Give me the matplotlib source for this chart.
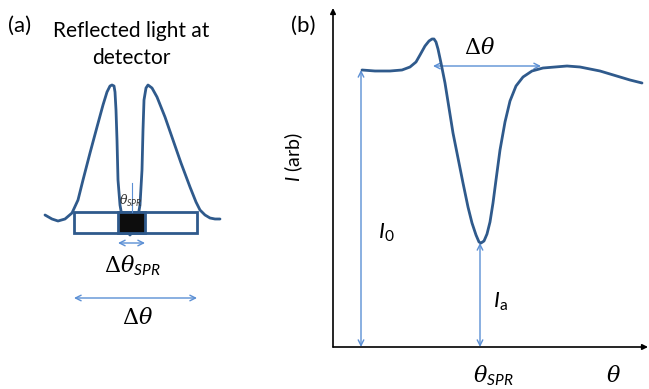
import numpy as np
import matplotlib.pyplot as plt
from matplotlib.patches import Rectangle, FancyArrowPatch

plt.rcParams['font.family'] = ['Lato', 'DejaVu Sans']
plt.rcParams['mathtext.fontset'] = 'custom'
plt.rcParams['mathtext.rm'] = 'DejaVu Serif'
plt.rcParams['mathtext.it'] = 'DejaVu Serif:italic'
plt.rcParams['mathtext.sf'] = 'Lato:italic'
plt.rcParams['mathtext.tt'] = 'Lato'

# panel (a): reflected light profile on the detector (pixel coords)
det_x = [45, 52, 58, 65, 72, 78, 83, 90, 97, 103, 107, 110, 112, 114, 115, 116, 117, 118, 120,
         124, 130, 136, 140, 142, 143, 144, 146, 148, 152, 157, 165, 173, 181, 190, 196, 200, 205, 210, 215, 220]
det_y = [215, 219, 221, 219, 213, 200, 180, 153, 127, 105, 92, 86, 85, 86, 92, 110, 140, 180, 205,
         228, 235, 228, 205, 170, 130, 100, 88, 85, 88, 97, 117, 140, 163, 187, 202, 210, 215, 218, 219, 219]

# panel (b): SPR reflectivity curve
spr_x = [362, 375, 390, 402, 410, 416, 420, 425, 429, 432, 434, 436, 438, 441, 445, 449, 453, 458, 463, 468,
         472, 476, 479, 481, 484, 487, 490, 493, 496, 500, 505, 510, 516, 523, 532, 543, 555, 567, 580, 590, 600,
         610, 620, 630, 642]
spr_y = [70, 71, 71, 70, 67, 62, 55, 46, 41, 39, 39, 42, 49, 63, 83, 108, 133, 158, 183, 207,
         223, 235, 242, 243, 241, 234, 222, 203, 180, 150, 122, 101, 86, 77, 71, 68, 67, 66, 67, 69, 71,
         74, 77, 80, 83]

curve_col = '#2f5a8c'
arrow_col = '#5b8fd4'

fig = plt.figure(figsize=(6.49, 3.89), dpi=100)
ax = fig.add_axes([0, 0, 1, 1])
ax.set_xlim(0, 649)
ax.set_ylim(389, 0)
ax.axis('off')


def arrow(x0, y0, x1, y1, style='<->', col=arrow_col, lw=1.0, ms=10):
    ax.add_patch(FancyArrowPatch((x0, y0), (x1, y1), arrowstyle=style, color=col,
                                 lw=lw, mutation_scale=ms, shrinkA=0, shrinkB=0))


# ---- panel (a)
ax.plot(det_x, det_y, color=curve_col, lw=2, zorder=2, solid_capstyle='round')
ax.add_patch(Rectangle((74, 212), 123, 21, facecolor='white', edgecolor=curve_col, lw=2, zorder=3))
ax.add_patch(Rectangle((118, 212), 27, 21, facecolor='#0d0d0d', edgecolor=curve_col, lw=2, zorder=4))
ax.plot([132, 132], [183, 212], color=arrow_col, lw=0.8, zorder=5)
ax.text(131, 201, r'$\theta_{\mathsf{SPR}}$', fontsize=9, color='#333333', ha='center', va='center', zorder=6)
arrow(118, 243, 145, 243)
ax.text(132, 266, r'$\Delta\theta_{\mathsf{SPR}}$', fontsize=16, ha='center', va='center')
arrow(74, 298, 197, 298)
ax.text(138, 318, r'$\Delta\theta$', fontsize=16, ha='center', va='center')
ax.text(20, 26, '(a)', fontsize=16, ha='center', va='center')
ax.text(131, 31, 'Reflected light at', fontsize=15, ha='center', va='center')
ax.text(131, 58, 'detector', fontsize=15, ha='center', va='center')

# ---- panel (b)
ax.plot(spr_x, spr_y, color=curve_col, lw=2, zorder=2, solid_capstyle='round')
arrow(333, 347, 333, 8, style='-|>', col='black', lw=1.2, ms=8)
arrow(333, 347, 648, 347, style='-|>', col='black', lw=1.2, ms=8)
arrow(361, 70, 361, 347)
arrow(480, 243, 480, 347)
arrow(433, 66, 541, 66)
ax.text(303, 26, '(b)', fontsize=16, ha='center', va='center')
ax.text(294, 157, r'$\mathsf{I}$ (arb)', fontsize=14, rotation=90, ha='center', va='center')
ax.text(386, 233, r'$\mathsf{I}_{\mathtt{0}}$', fontsize=16, ha='center', va='center')
ax.text(500, 302, r'$\mathsf{I}_{\mathtt{a}}$', fontsize=16, ha='center', va='center')
ax.text(480, 47, r'$\Delta\theta$', fontsize=16, ha='center', va='center')
ax.text(493, 376, r'$\theta_{\mathsf{SPR}}$', fontsize=16, ha='center', va='center')
ax.text(614, 376, r'$\theta$', fontsize=16, ha='center', va='center')

fig.savefig('out.png', dpi=100)
